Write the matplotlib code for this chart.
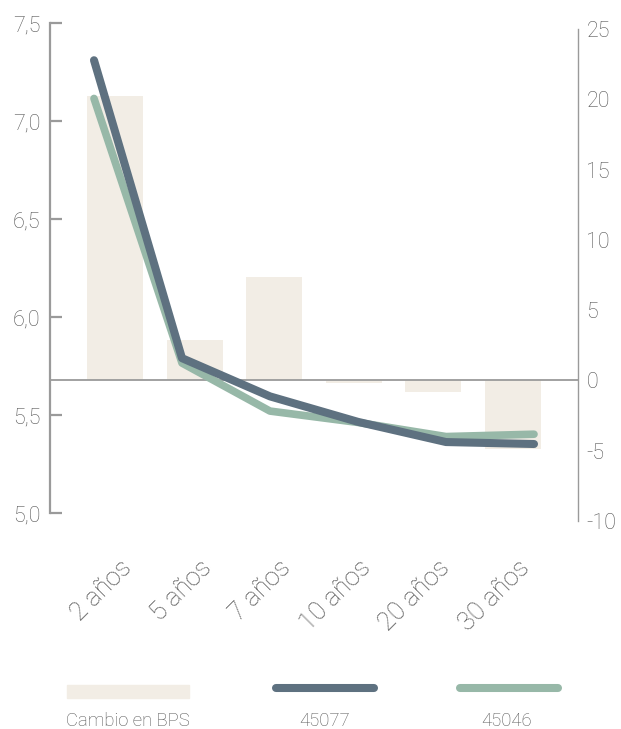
import matplotlib
matplotlib.use("Agg")
import matplotlib.pyplot as plt
import matplotlib.transforms as mtrans
from matplotlib.lines import Line2D
from matplotlib.patches import Rectangle

plt.rcParams['font.family'] = ['Roboto', 'DejaVu Sans']
plt.rcParams['font.weight'] = 'light'
plt.rcParams['axes.unicode_minus'] = False

plazos = ['2 años', '5 años', '7 años', '10 años', '20 años', '30 años']
cambio_bps = [20.2, 2.9, 7.35, -0.2, -0.8, -4.85]
serie_45077 = [7.31, 5.79, 5.595, 5.465, 5.362, 5.352]
serie_45046 = [7.115, 5.765, 5.52, 5.462, 5.39, 5.402]
ticks_izq = [5.0, 5.5, 6.0, 6.5, 7.0, 7.5]
ticks_der = [-10, -5, 0, 5, 10, 15, 20, 25]

c_barra = '#f2ede5'
c_oscuro = '#5e7180'
c_verde = '#97b8a8'
c_eje = '#9a9a9a'
c_texto = '#555555'

W, H = 621, 729
fig = plt.figure(figsize=(W / 100, H / 100), dpi=100)

x = list(range(len(plazos)))

# eje derecho (barras), un poco desplazado como en el original
ax2 = fig.add_axes([50 / W, (H - 521) / H, 528 / W, 492 / H])
ax2.bar(x, cambio_bps, width=0.70, color=c_barra, zorder=1)
ax2.axhline(0, color=c_eje, lw=1.3, zorder=2)
ax2.set_xlim(-0.82, len(plazos) - 0.18)
ax2.set_ylim(-10, 25)
ax2.set_yticks(ticks_der)
ax2.yaxis.tick_right()
ax2.tick_params(axis='y', length=0, pad=6, labelsize=15.5, labelcolor=c_texto)
ax2.set_xticks(x)
ax2.set_xticklabels(plazos, rotation=45, ha='right', va='center',
                    rotation_mode='anchor')
ax2.tick_params(axis='x', length=0, pad=31, labelsize=18.5, labelcolor=c_texto)
desplaza = mtrans.ScaledTranslation(13 / 100, 0, fig.dpi_scale_trans)
for lab in ax2.get_xticklabels():
    lab.set_transform(lab.get_transform() + desplaza)
for s in ['top', 'left', 'bottom']:
    ax2.spines[s].set_visible(False)
ax2.spines['right'].set_color(c_eje)
ax2.spines['right'].set_linewidth(1.0)

# eje izquierdo (lineas)
ax1 = fig.add_axes([50 / W, (H - 513) / H, 528 / W, 490 / H])
ax1.set_zorder(ax2.get_zorder() + 1)
ax1.patch.set_visible(False)
ax1.plot(x, serie_45046, color=c_verde, lw=5.5, solid_capstyle='round',
         solid_joinstyle='round', zorder=3)
ax1.plot(x, serie_45077, color=c_oscuro, lw=5.8, solid_capstyle='round',
         solid_joinstyle='round', zorder=4)
ax1.set_xlim(-0.5, len(plazos) - 0.5)
ax1.set_ylim(5.0, 7.5)
ax1.set_yticks(ticks_izq)
ax1.set_yticklabels([f'{t:.1f}'.replace('.', ',') for t in ticks_izq])
ax1.tick_params(axis='y', direction='in', length=8.5, width=1.6, color=c_eje,
                pad=7, labelsize=15.5, labelcolor=c_texto)
ax1.set_xticks([])
for s in ['top', 'right', 'bottom']:
    ax1.spines[s].set_visible(False)
ax1.spines['left'].set_color(c_eje)
ax1.spines['left'].set_linewidth(1.6)

# leyenda
lg = fig.add_axes([0, 0, 1, 70 / H])
lg.set_xlim(0, W)
lg.set_ylim(70, 0)
lg.axis('off')
lg.add_patch(Rectangle((67, 26), 122, 13, color=c_barra))
lg.add_line(Line2D([276, 374], [29, 29], color=c_oscuro, lw=5.8,
                   solid_capstyle='round'))
lg.add_line(Line2D([460, 558], [29, 29], color=c_verde, lw=5.8,
                   solid_capstyle='round'))
etiquetas = ['Cambio en BPS', '45077', '45046']
for xc, t in zip([128, 325, 507], etiquetas):
    lg.text(xc, 62, t, ha='center', va='center', fontsize=13.3, color=c_texto)

fig.savefig('out.png', dpi=100)
